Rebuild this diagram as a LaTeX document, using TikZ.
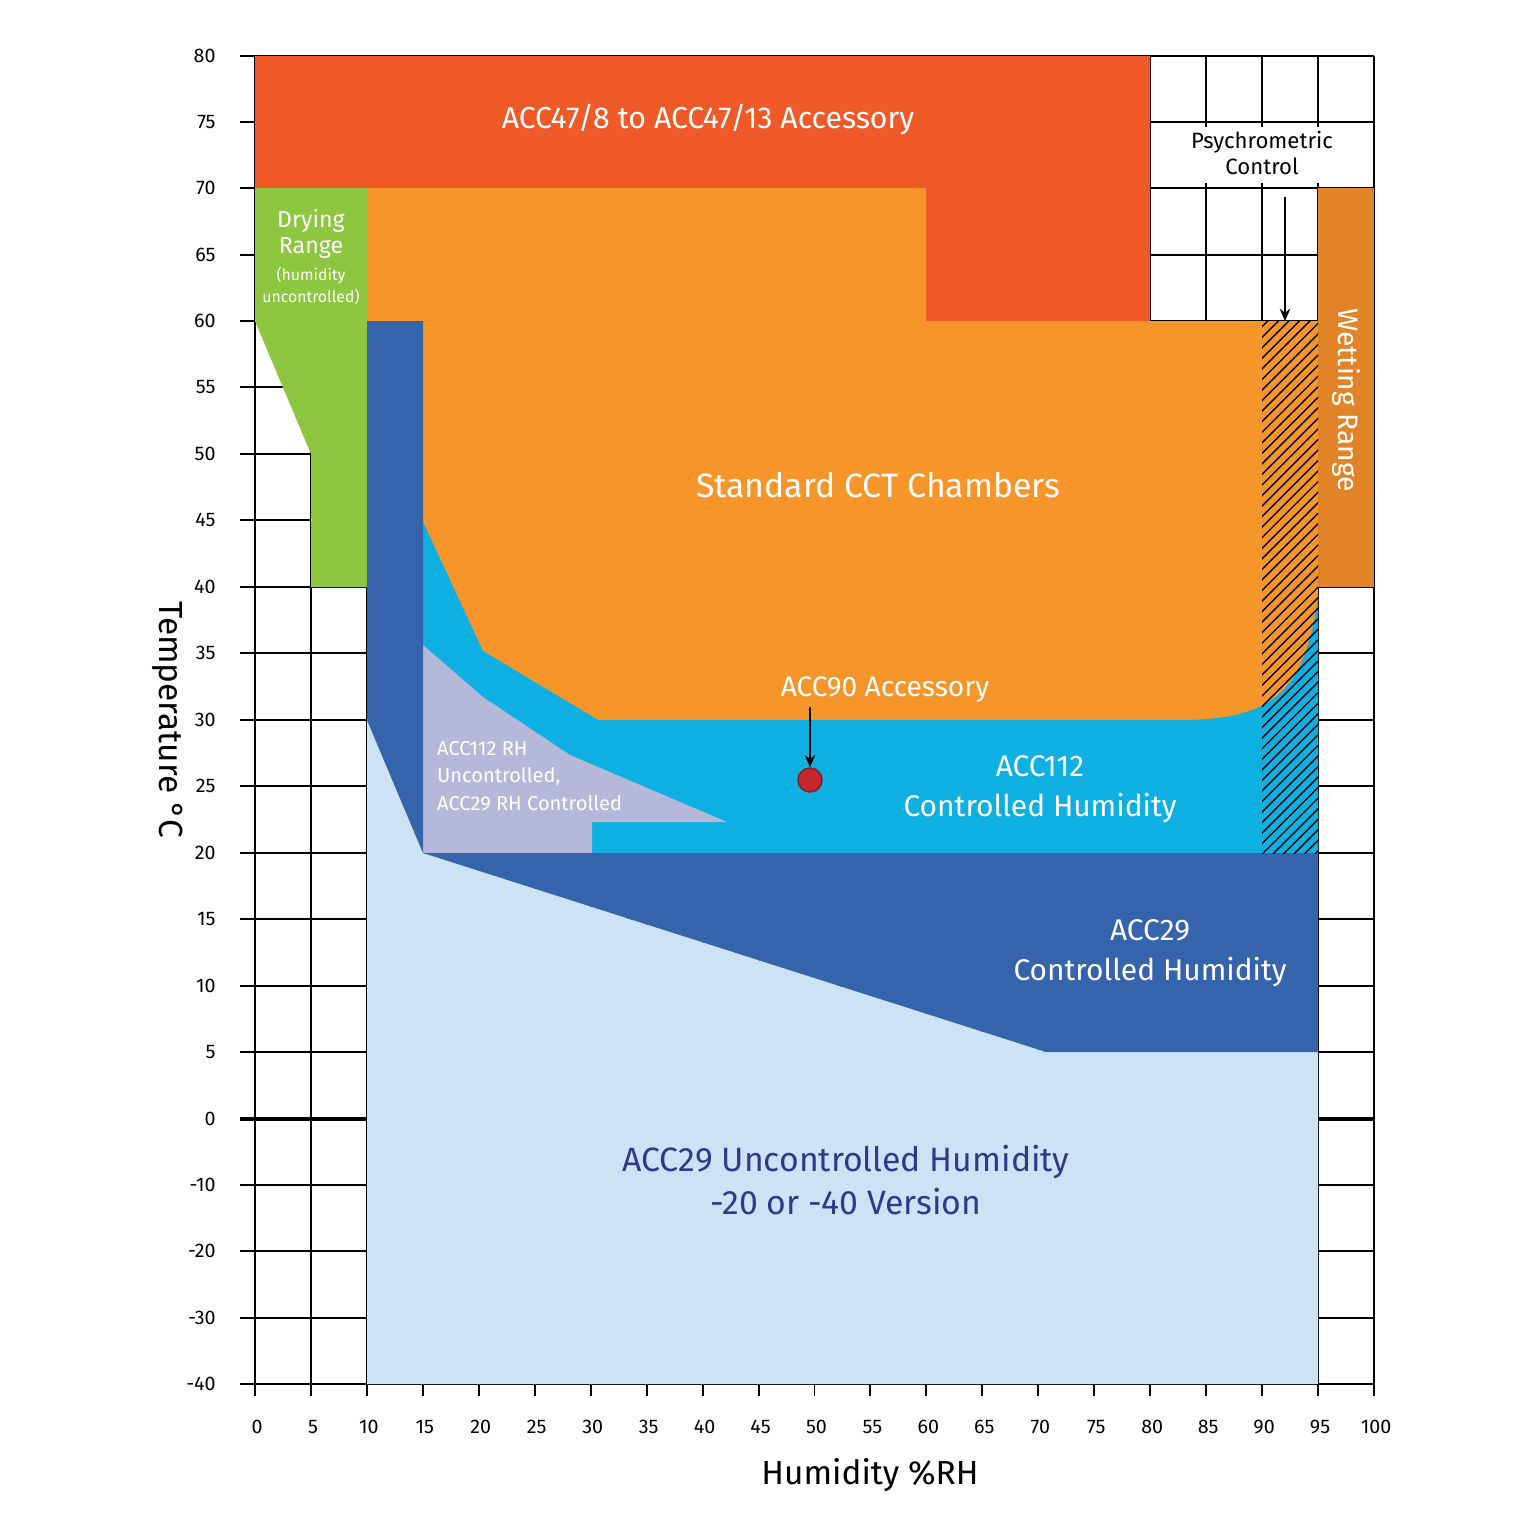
\documentclass[tikz,border=0pt]{standalone}
\usepackage{fontspec}
\setmainfont{Fira Sans}
\usetikzlibrary{patterns,arrows.meta}
\definecolor{cred}{HTML}{F05A28}
\definecolor{corange}{HTML}{F6962A}
\definecolor{cgreen}{HTML}{8DC63F}
\definecolor{cdark}{HTML}{3563AC}
\definecolor{clight}{HTML}{CCE3F5}
\definecolor{ccyan}{HTML}{0DB0E0}
\definecolor{clav}{HTML}{B6B8DA}
\definecolor{cwet}{HTML}{E08427}
\definecolor{cdot}{HTML}{C1272D}
\definecolor{ctext}{HTML}{2B3A8C}
\begin{document}
\begin{tikzpicture}[x=0.01cm,y=-0.01cm,
  grid/.style={black,line width=0.55pt},
  lbl/.style={text=white,align=center,inner sep=1pt},
  tick/.style={font=\fontsize{5.6}{6}\selectfont},
  arr/.style={-{Stealth[length=3.5pt,width=3pt]},line width=0.5pt}]
\useasboundingbox (0,0) rectangle (1536,1536);
% grid
\foreach \i in {0,...,20}{ \draw[grid] ({255+55.95*\i},56) -- ({255+55.95*\i},1384); }
\foreach \y in {56,122,188,255,321,387,454,520,587,653,720,786,853,919,986,1052,1119,1185,1251,1318,1384}{ \draw[grid] (240,\y) -- (1374,\y); }
\foreach \i in {0,...,20}{ \draw[grid] ({255+55.95*\i},1384) -- ({255+55.95*\i},1396); }
% regions
\fill[corange] (367,188) -- (926,188) -- (926,321) -- (1318,321) -- (1318,853) -- (367,853) -- cycle;
\fill[cred] (255,56) -- (1150,56) -- (1150,321) -- (926,321) -- (926,188) -- (255,188) -- cycle;
\fill[cgreen] (255,188) -- (367,188) -- (367,587) -- (311,587) -- (311,454) -- (255,321) -- cycle;
\fill[ccyan] (423,522) -- (483,651) -- (598,720) -- (1180,720) .. controls (1275,720) and (1305,690) .. (1318,597) -- (1318,853) -- (423,853) -- cycle;
\fill[clav] (423,645) -- (483,697) -- (570,755) -- (727,822) -- (592,822) -- (592,853) -- (423,853) -- cycle;
\fill[clight] (367,720) -- (423,853) -- (1046,1052) -- (1318,1052) -- (1318,1384) -- (367,1384) -- cycle;
\fill[cdark] (367,321) -- (423,321) -- (423,853) -- (1318,853) -- (1318,1052) -- (1046,1052) -- (423,853) -- (367,720) -- cycle;
\fill[cwet] (1318,188) rectangle (1374,587);
\fill[pattern=north east lines,pattern color=black] (1262,321) rectangle (1318,853);
\fill[white] (1155,127) rectangle (1370,183);
\draw[line width=1.4pt] (240,1119) -- (367,1119);
\draw[line width=1.4pt] (1318,1119) -- (1374,1119);
% axis labels
\foreach \v/\y in {80/56,75/122,70/188,65/255,60/321,55/387,50/454,45/520,40/587,35/653,30/720,25/786,20/853,15/919,10/986,5/1052,0/1119,-10/1185,-20/1251,-30/1318,-40/1384}{ \node[tick,anchor=east] (ty\y) at (228,\y) {\v}; }
\foreach \i in {0,...,20}{ \pgfmathtruncatemacro{\v}{5*\i} \node[tick] (tx\i) at ({257+55.95*\i},1427) {\v}; }
\node[font=\fontsize{9.5}{11}\selectfont,rotate=-90] (ylab) at (168,720) {Temperature °C};
\node[font=\fontsize{9.5}{11}\selectfont] (xlab) at (870,1475) {Humidity \%RH};
% texts
\node[lbl,font=\fontsize{8.6}{10}\selectfont] (t47) at (708,120) {ACC47/8 to ACC47/13 Accessory};
\node[align=center,inner sep=1pt,font=\fontsize{6.3}{7.5}\selectfont] (tps) at (1262,153) {Psychrometric\\Control};
\node[lbl,font=\fontsize{6.6}{7.4}\selectfont] (tdry) at (311,234) {Drying\\Range};
\node[lbl,font=\fontsize{4.5}{6.5}\selectfont] (tdry2) at (311,286) {(humidity\\uncontrolled)};
\node[lbl,font=\fontsize{9.6}{11}\selectfont] (tstd) at (878,485) {Standard CCT Chambers};
\node[lbl,font=\fontsize{8}{9}\selectfont,rotate=-90] (twet) at (1346,400) {Wetting Range};
\node[lbl,font=\fontsize{8}{9}\selectfont] (t90) at (885,690) {ACC90 Accessory};
\node[lbl,font=\fontsize{8.5}{11.5}\selectfont] (t112) at (1040,789) {ACC112\\Controlled Humidity};
\node[lbl,align=left,anchor=west,font=\fontsize{5.7}{7.8}\selectfont] (tlav) at (433,776) {ACC112 RH\\Uncontrolled,\\ACC29 RH Controlled};
\node[lbl,font=\fontsize{8.5}{11.5}\selectfont] (t29) at (1150,953) {ACC29\\Controlled Humidity};
\node[text=ctext,align=center,font=\fontsize{9.6}{12}\selectfont] (t29u) at (846,1180) {ACC29 Uncontrolled Humidity\\-20 or -40 Version};
% dot and arrows
\node[circle,fill=cdot,draw=cdot!70!black,minimum size=0.24cm,inner sep=0pt] (dot) at (810,780) {};
\coordinate (a90) at (810,707);
\draw[arr] (a90) -- (dot.north);
\coordinate (ps1) at (1285,197);
\coordinate (ps2) at (1285,321);
\draw[arr] (ps1) -- (ps2);
\end{tikzpicture}
\end{document}
